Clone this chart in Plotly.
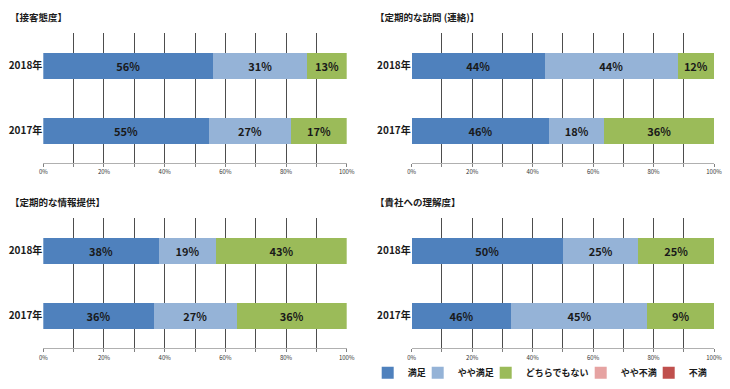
import plotly.graph_objects as go

W, H = 730, 389

years = ["2017年", "2018年"]
series_names = ["満足", "やや満足", "どちらでもない", "やや不満", "不満"]
colors = ["#4F81BD", "#95B3D7", "#9BBB59", "#E6A3A2", "#C0504D"]

panel_titles = ["【接客態度】", "【定期的な訪問 (連絡)】", "【定期的な情報提供】", "【貴社への理解度】"]

# bar widths (share, %) per panel, per series: [2017, 2018]
widths = [
    [[54.5, 56.0], [27.3, 31.0], [18.2, 13.0], [0, 0], [0, 0]],
    [[45.5, 44.0], [18.2, 44.0], [36.3, 12.0], [0, 0], [0, 0]],
    [[36.4, 38.0], [27.3, 19.0], [36.3, 43.0], [0, 0], [0, 0]],
    [[33.0, 50.0], [45.0, 25.0], [22.0, 25.0], [0, 0], [0, 0]],
]
# labels printed on the bars
labels = [
    [["55%", "56%"], ["27%", "31%"], ["17%", "13%"]],
    [["46%", "44%"], ["18%", "44%"], ["36%", "12%"]],
    [["36%", "38%"], ["27%", "19%"], ["36%", "43%"]],
    [["46%", "50%"], ["45%", "25%"], ["9%", "25%"]],
]

tick_vals = list(range(0, 101, 10))
tick_text = [f"{v}%" if v % 20 == 0 else "" for v in tick_vals]

FONT = "Noto Sans CJK JP, sans-serif"

# panel geometry in pixels: (x0, x1, ytop, ybottom)
panels_px = [
    (43.3, 346.7, 33, 163),
    (411.7, 714, 33, 163),
    (43.3, 346.7, 218.3, 348.3),
    (411.7, 714, 218.3, 348.3),
]
title_pos = [(8, 17), (373, 17), (8, 202), (373, 202)]

# legend: one small legend per entry, laid out in a row
LEG_FONT = 9
leg_gap = 6
text_w = [len(n) * LEG_FONT for n in series_names]
total = 5 * 26 + sum(text_w) + 4 * leg_gap
start = 544.2 - total / 2
legend_key_x = []
cur = start
for tw in text_w:
    legend_key_x.append(cur)
    cur += 26 + tw + leg_gap

fig = go.Figure()
layout = dict(
    width=W, height=H, margin=dict(l=0, r=0, t=0, b=0, autoexpand=False),
    paper_bgcolor="white", plot_bgcolor="white",
    barmode="stack", bargap=0.6,
    font=dict(family=FONT, color="#1a1a1a"),
    showlegend=True,
)
legend_names = ["legend", "legend2", "legend3", "legend4", "legend5"]
for s in range(5):
    layout[legend_names[s]] = dict(
        orientation="h", x=(legend_key_x[s] - 14) / W, xanchor="left",
        y=1 - 372.7 / H, yanchor="middle",
        font=dict(size=LEG_FONT, family=FONT, color="#1a1a1a", weight="bold"), itemwidth=30,
        bgcolor="rgba(0,0,0,0)", borderwidth=0,
    )
annotations = []
for p in range(4):
    xa = "x" if p == 0 else f"x{p+1}"
    ya = "y" if p == 0 else f"y{p+1}"
    for s in range(5):
        txt = labels[p][s] if s < 3 else None
        fig.add_trace(go.Bar(
            y=years, x=widths[p][s], orientation="h",
            name=series_names[s], marker=dict(color=colors[s], line=dict(width=0)),
            text=txt, textposition="inside" if txt else "none", insidetextanchor="middle",
            textfont=dict(size=11, color="#1a1a1a", family=FONT, weight="bold"),
            textangle=0, cliponaxis=False,
            showlegend=(p == 3), legend=legend_names[s],
            xaxis=xa, yaxis=ya, hoverinfo="skip",
        ))
    x0, x1, yt, yb = panels_px[p]
    axn = "" if p == 0 else str(p + 1)
    layout["xaxis" + axn] = dict(
        domain=[x0 / W, x1 / W], anchor=ya, range=[0, 100], tickvals=tick_vals, ticktext=tick_text,
        showgrid=True, gridcolor="#4d4d4d", gridwidth=1, zeroline=False,
        showline=True, linecolor="#b0b0b0", linewidth=1,
        ticks="outside", ticklen=3, tickcolor="#808080",
        tickfont=dict(size=6, color="#333333", family=FONT), fixedrange=True,
    )
    layout["yaxis" + axn] = dict(
        domain=[1 - yb / H, 1 - yt / H], anchor=xa, type="category",
        categoryorder="array", categoryarray=years,
        tickvals=years, ticktext=[f"<b>{y}</b>" for y in years],
        tickfont=dict(size=10, color="#1a1a1a", family=FONT),
        showgrid=False, zeroline=False, showline=False, ticks="", ticklabelstandoff=0,
        fixedrange=True,
    )
    tx, ty = title_pos[p]
    annotations.append(dict(
        text=f"<b>{panel_titles[p]}</b>", x=tx / W, y=1 - ty / H, xref="paper", yref="paper",
        xanchor="left", yanchor="middle", showarrow=False,
        font=dict(size=9.5, color="#1a1a1a", family=FONT),
    ))
layout["annotations"] = annotations
fig.update_layout(**layout)
fig.write_html("out.html", config={"displayModeBar": False},
               post_script="document.body.style.margin='0';")
